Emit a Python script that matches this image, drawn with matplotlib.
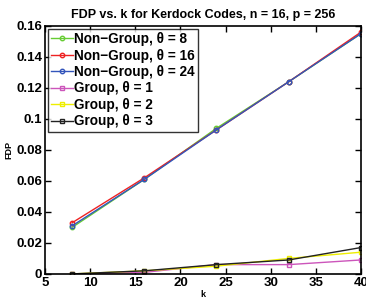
import matplotlib
matplotlib.use("Agg")
import matplotlib.pyplot as plt

k = [8, 16, 24, 32, 40]
ng8 = [0.030, 0.061, 0.094, 0.124, 0.155]
ng16 = [0.033, 0.062, 0.093, 0.124, 0.156]
ng24 = [0.031, 0.061, 0.093, 0.124, 0.155]
g1 = [0.0, 0.001, 0.006, 0.006, 0.009]
g2 = [0.0, 0.002, 0.005, 0.010, 0.014]
g3 = [0.0, 0.002, 0.006, 0.009, 0.017]

labels = ["Non\u2212Group, \u03b8 = 8", "Non\u2212Group, \u03b8 = 16", "Non\u2212Group, \u03b8 = 24",
          "Group, \u03b8 = 1", "Group, \u03b8 = 2", "Group, \u03b8 = 3"]
xticks = [5, 10, 15, 20, 25, 30, 35, 40]
yticks = [0, 0.02, 0.04, 0.06, 0.08, 0.1, 0.12, 0.14, 0.16]
yticklabels = ["0", "0.02", "0.04", "0.06", "0.08", "0.1", "0.12", "0.14", "0.16"]

plt.rcParams['font.family'] = ['Liberation Sans', 'DejaVu Sans']
plt.rcParams['font.weight'] = 'bold'

fig = plt.figure(figsize=(3.66, 3.02), dpi=100)
ax = fig.add_axes([0.123, 0.093, 0.863, 0.821])

series = [(ng8, '#66cc33', 'o'), (ng16, '#ee2222', 'o'), (ng24, '#3355bb', 'o'),
          (g1, '#cc55bb', 's'), (g2, '#eeee00', 's'), (g3, '#222222', 's')]
for (vals, c, m), lab in zip(series, labels):
    ax.plot(k, vals, color=c, marker=m, markersize=3.2, markerfacecolor='none',
            markeredgewidth=1.0, linewidth=1.0, label=lab)

ax.set_xlim(5, 40)
ax.set_ylim(0, 0.16)
ax.set_xticks(xticks)
ax.set_yticks(yticks)
ax.set_yticklabels(yticklabels)
ax.tick_params(direction='in', top=True, right=True, labelsize=9.5, width=1, length=4, pad=2)
for lbl in ax.get_xticklabels() + ax.get_yticklabels():
    lbl.set_fontweight('bold')
for s in ax.spines.values():
    s.set_linewidth(1.2)
ax.set_xlabel('k', fontsize=6.5, fontweight='bold', labelpad=1)
ax.set_ylabel('FDP', fontsize=6.5, fontweight='bold', labelpad=2)
ax.set_title('FDP vs. k for Kerdock Codes, n = 16, p = 256', fontsize=9, fontweight='bold', pad=6)

leg = ax.legend(loc='upper left', fontsize=9.8, frameon=True, fancybox=False, edgecolor='black',
                borderaxespad=0.2, handlelength=1.6, handletextpad=0.1, labelspacing=0.18,
                borderpad=0.25)
leg.get_frame().set_linewidth(1.0)
for t in leg.get_texts():
    t.set_fontweight('bold')

fig.savefig('out.png', dpi=100)
